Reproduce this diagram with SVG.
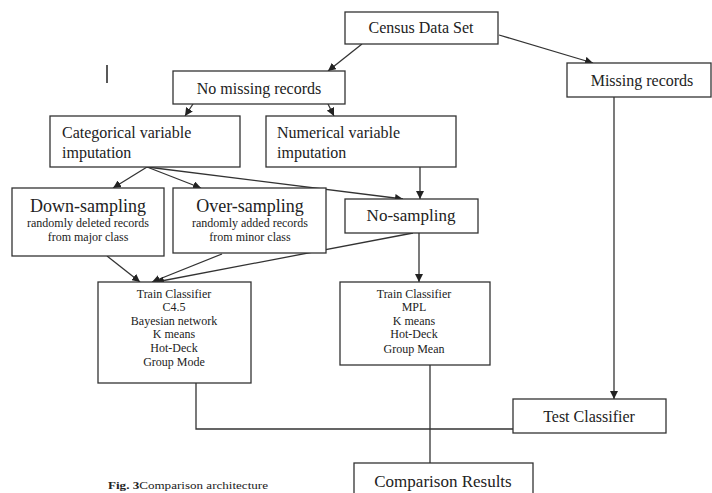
<svg xmlns="http://www.w3.org/2000/svg" width="712" height="493" viewBox="0 0 712 493">
<style>
.box{fill:#fff;stroke:#333;stroke-width:1.3}
.t{font-family:"Liberation Serif","Times New Roman",serif;fill:#222}
.l{font-size:16px}
.c{text-anchor:middle}
.s{font-size:12px}
.m{font-size:12px}
.e{fill:none;stroke:#333;stroke-width:1.3}
</style>
<defs>
<marker id="ah" viewBox="0 0 10 10" refX="10" refY="5" markerWidth="8" markerHeight="8" markerUnits="userSpaceOnUse" orient="auto">
<path d="M0,0 L10,5 L0,10 z" fill="#222"/>
</marker>
</defs>
<rect width="712" height="493" fill="#fff"/>
<g id="connectors">
<path class="e" d="M362,44 L328,71" marker-end="url(#ah)"/>
<path class="e" d="M499,35 L593,63" marker-end="url(#ah)"/>
<path class="e" d="M193,104 L185,116" marker-end="url(#ah)"/>
<path class="e" d="M328,104 L334,116" marker-end="url(#ah)"/>
<path class="e" d="M147,167 L113,188" marker-end="url(#ah)"/>
<path class="e" d="M147,167 L201,188" marker-end="url(#ah)"/>
<path class="e" d="M147,167 L403,199" marker-end="url(#ah)"/>
<path class="e" d="M420,167 L420,199" marker-end="url(#ah)"/>
<path class="e" d="M107,256 L140,282" marker-end="url(#ah)"/>
<path class="e" d="M222,254 L152,282" marker-end="url(#ah)"/>
<path class="e" d="M413,233 L156,282" marker-end="url(#ah)"/>
<path class="e" d="M419,233 L419,282" marker-end="url(#ah)"/>
<path class="e" d="M614,97 L614,399" marker-end="url(#ah)"/>
<path class="e" d="M196,383 L196,429 L513,429"/>
<path class="e" d="M430,365 L430,463"/>
</g>
<line x1="107" y1="65" x2="107" y2="83" stroke="#222" stroke-width="1.5"/>
<g id="census">
<rect class="box" x="345" y="12" width="153" height="32"/>
<text class="t l c" x="421" y="33">Census Data Set</text>
</g>
<g id="missing">
<rect class="box" x="567" y="63" width="144" height="34"/>
<text class="t l c" x="642" y="86">Missing records</text>
</g>
<g id="nomissing">
<rect class="box" x="173" y="71" width="172" height="33"/>
<text class="t l c" x="259" y="94">No missing records</text>
</g>
<g id="categorical">
<rect class="box" x="50" y="116" width="190" height="51"/>
<text class="t l" x="62" y="138">Categorical variable</text>
<text class="t l" x="62" y="158">imputation</text>
</g>
<g id="numerical">
<rect class="box" x="266" y="116" width="190" height="51"/>
<text class="t l" x="277" y="138">Numerical variable</text>
<text class="t l" x="277" y="158">imputation</text>
</g>
<g id="downsampling">
<rect class="box" x="12" y="188" width="152" height="68"/>
<text class="t c" x="88" y="212" font-size="18">Down-sampling</text>
<text class="t s c" x="88" y="227">randomly deleted records</text>
<text class="t s c" x="88" y="241">from major class</text>
</g>
<g id="oversampling">
<rect class="box" x="173" y="188" width="153" height="65"/>
<text class="t c" x="250" y="212" font-size="18">Over-sampling</text>
<text class="t s c" x="250" y="227">randomly added records</text>
<text class="t s c" x="250" y="241">from minor class</text>
</g>
<g id="nosampling">
<rect class="box" x="345" y="199" width="133" height="34"/>
<text class="t c" x="411" y="221" font-size="17">No-sampling</text>
</g>
<g id="train1">
<rect class="box" x="98" y="282" width="153" height="101"/>
<text class="t m c" x="174" y="298">Train Classifier</text>
<text class="t m c" x="174" y="311">C4.5</text>
<text class="t m c" x="174" y="325">Bayesian network</text>
<text class="t m c" x="174" y="338">K means</text>
<text class="t m c" x="174" y="352">Hot-Deck</text>
<text class="t m c" x="174" y="366">Group Mode</text>
</g>
<g id="train2">
<rect class="box" x="340" y="282" width="150" height="83"/>
<text class="t m c" x="414" y="298">Train Classifier</text>
<text class="t m c" x="414" y="311">MPL</text>
<text class="t m c" x="414" y="325">K means</text>
<text class="t m c" x="414" y="338">Hot-Deck</text>
<text class="t m c" x="414" y="353">Group Mean</text>
</g>
<g id="test">
<rect class="box" x="513" y="399" width="153" height="34"/>
<text class="t l c" x="589" y="422">Test Classifier</text>
</g>
<g id="results">
<rect class="box" x="354" y="463" width="179" height="40"/>
<text class="t c" x="443" y="487" font-size="17">Comparison Results</text>
</g>
<text class="t" x="108" y="489" font-size="11" textLength="160" lengthAdjust="spacingAndGlyphs"><tspan font-weight="bold">Fig. 3</tspan>Comparison architecture</text>
</svg>
